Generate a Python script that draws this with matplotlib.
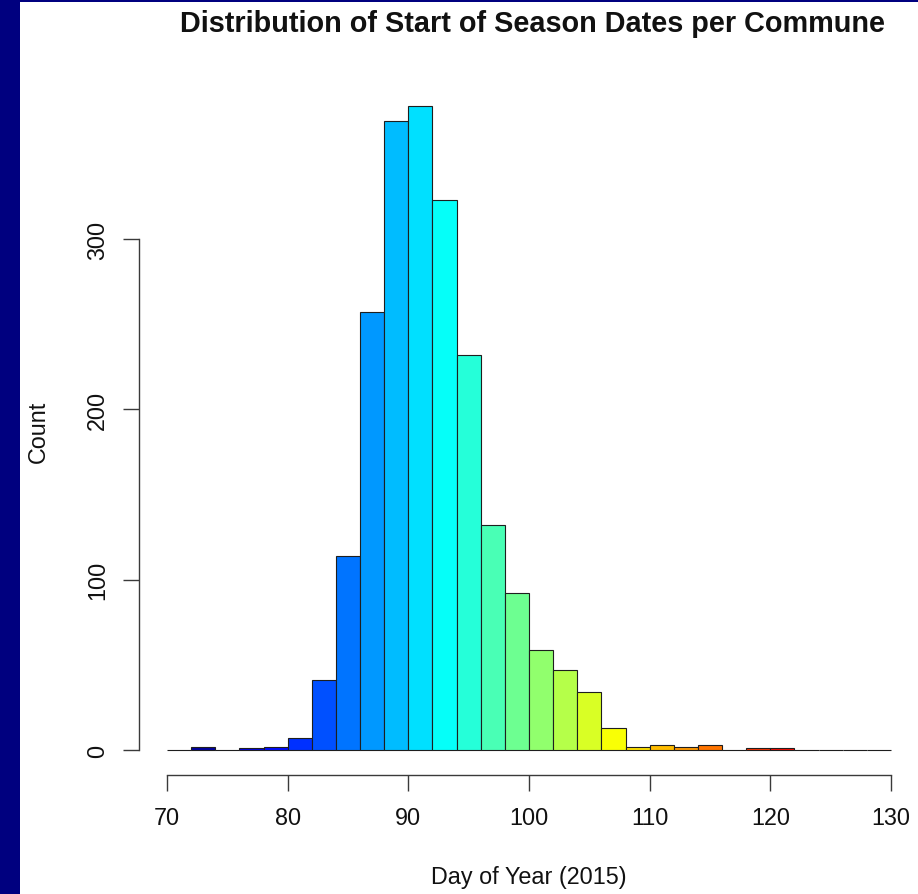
import matplotlib
matplotlib.use("Agg")
import matplotlib.pyplot as plt
from matplotlib.colors import LinearSegmentedColormap
from matplotlib.patches import Rectangle

# Histogram data: 2-day bins from day 70 to day 130
bin_edges = list(range(70, 131, 2))
counts = [0, 2, 0, 1, 2, 7, 41, 114, 257, 369, 378, 323, 232, 132, 92,
          59, 47, 34, 13, 2, 3, 2, 3, 0, 1, 1, 0, 0, 0, 0]
x_ticks = [70, 80, 90, 100, 110, 120, 130]
y_ticks = [0, 100, 200, 300]

title = "Distribution of Start of Season Dates per Commune"
x_label = "Day of Year (2015)"
y_label = "Count"

# jet-style palette, one colour per bin
jet = LinearSegmentedColormap.from_list(
    "jet_like",
    ["#00007F", "#0000FF", "#007FFF", "#00FFFF", "#7FFF7F",
     "#FFFF00", "#FF7F00", "#FF0000", "#7F0000"])
n_bins = len(counts)
bar_colors = [jet(i / (n_bins - 1)) for i in range(n_bins)]

plt.rcParams["font.family"] = ["Liberation Sans", "DejaVu Sans"]

W, H, DPI = 918, 895, 100
fig = plt.figure(figsize=(W / DPI, H / DPI), dpi=DPI)
fig.patch.set_facecolor("white")

def px2pt(p):
    return p * 72.0 / DPI

# plot region in pixels
left_px, right_px = 167, 891
bottom_px, top_px = 751, 90
ax = fig.add_axes([left_px / W, (H - bottom_px) / H,
                   (right_px - left_px) / W, (bottom_px - top_px) / H])
ax.set_xlim(bin_edges[0], bin_edges[-1])
# 300 counts sits 511 px above the baseline
ax.set_ylim(0, (bottom_px - top_px) * 300 / 511)

bars = ax.bar(bin_edges[:-1], counts, width=2, align="edge", color=bar_colors,
              edgecolor="#1e1e1e", linewidth=0.8, zorder=2)
for b in bars:
    b.set_clip_on(False)

axis_col = "#3a3a3a"
text_col = "#111111"
for s in ("top", "right"):
    ax.spines[s].set_visible(False)
ax.spines["left"].set_position(("outward", px2pt(left_px - 139)))
ax.spines["left"].set_bounds(y_ticks[0], y_ticks[-1])
ax.spines["bottom"].set_position(("outward", px2pt(776 - bottom_px)))
ax.spines["bottom"].set_bounds(x_ticks[0], x_ticks[-1])
for s in ("left", "bottom"):
    ax.spines[s].set_color(axis_col)
    ax.spines[s].set_linewidth(1.0)

ax.set_xticks(x_ticks)
ax.set_yticks(y_ticks)
ax.set_yticklabels([str(v) for v in y_ticks], rotation=90, va="center")
ax.tick_params(axis="both", direction="out", length=px2pt(16), width=1.0,
               color=axis_col, labelsize=16.8, labelcolor=text_col)
ax.tick_params(axis="x", pad=px2pt(15))
ax.tick_params(axis="y", pad=px2pt(14))

fig.text(38 / W, 1 - 432 / H, y_label, rotation=90, ha="center", va="center",
         fontsize=16.8, color=text_col)
fig.text(529 / W, 1 - 878 / H, x_label, ha="center", va="center",
         fontsize=16.8, color=text_col)
fig.text(532 / W, 1 - 24 / H, title, ha="center", va="center",
         fontsize=20.8, fontweight="bold", color=text_col)

# dark frame strip along the left and top edges
fig.patches.append(Rectangle((0, 0), 20 / W, 1, transform=fig.transFigure,
                             facecolor="#00007F", edgecolor="none", zorder=10))
fig.patches.append(Rectangle((0, 1 - 3 / H), 1, 3 / H, transform=fig.transFigure,
                             facecolor="#00007F", edgecolor="none", zorder=10))

fig.savefig("out.png", dpi=DPI)
